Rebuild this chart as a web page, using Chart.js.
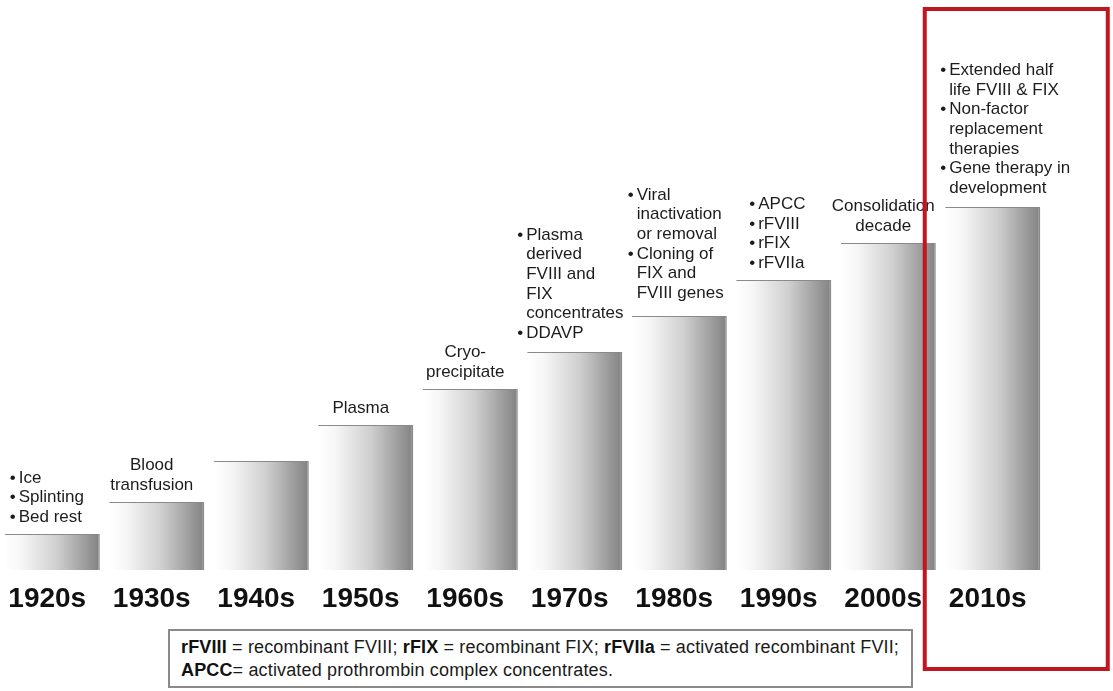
<!DOCTYPE html>
<html>
<head>
<meta charset="utf-8">
<title>Hemophilia treatment milestones by decade</title>
<script src="https://cdn.jsdelivr.net/npm/chart.js@4.4.1/dist/chart.umd.min.js"></script>
<style>
  html, body { margin: 0; padding: 0; background: #ffffff; }
  #wrap { position: relative; width: 1113px; height: 691px; overflow: hidden; }
  #chart { position: absolute; left: 0; top: 0; }
  #footnote {
    position: absolute; left: 168px; top: 629px; width: 745px; height: 59px;
    box-sizing: border-box; border: 2px solid #8a8a8a; background: #ffffff;
    padding: 5px 0 0 11px; font-family: 'Liberation Sans', Arial, sans-serif;
    font-size: 18px; letter-spacing: 0.15px; line-height: 23px; color: #1a1a1a; white-space: nowrap;
  }
  #footnote b { color: #111111; }
</style>
</head>
<body>
<div id="wrap">
  <canvas id="chart" width="1113" height="691"></canvas>
  <div id="footnote"><b>rFVIII</b> = recombinant FVIII; <b>rFIX</b> = recombinant FIX; <b>rFVIIa</b> = activated recombinant FVII;<br><b>APCC</b>= activated prothrombin complex concentrates.</div>
</div>
<script>
// Decades on the timeline
const decades = ['1920s', '1930s', '1940s', '1950s', '1960s', '1970s', '1980s', '1990s', '2000s', '2010s'];

// Height of each step of the staircase
const stepHeights = [36, 68, 109, 145, 181, 218, 254, 290, 327, 363];

// Treatment notes written above each step
const noteLines = [
  ['• Ice', '• Splinting', '• Bed rest'],
  ['Blood', 'transfusion'],
  [],
  ['Plasma'],
  ['Cryo-', 'precipitate'],
  ['• Plasma', 'derived', 'FVIII and', 'FIX', 'concentrates', '• DDAVP'],
  ['• Viral', 'inactivation', 'or removal', '• Cloning of', 'FIX and', 'FVIII genes'],
  ['• APCC', '• rFVIII', '• rFIX', '• rFVIIa'],
  ['Consolidation', 'decade'],
  ['• Extended half', 'life FVIII & FIX', '• Non-factor', 'replacement', 'therapies', '• Gene therapy in', 'development']
];

// Layout of the notes: horizontal shift of bulleted notes from the bar's left edge,
// and the gap between the last line's baseline and the bar top
const noteShiftX = [5, 0, 0, 0, 0, -10, -4, 13, 0, -5];
const noteLift = [12, 12, 0, 12, 12, 14, 18, 12, 12, 14];

const BAR_FRACTION = 0.91;
const TEXT_FONT = "17px 'Liberation Sans', Arial, sans-serif";
const LINE_STEP = 19.7;
const BULLET_INDENT = 9;

function barGeometry(chart, index) {
  const xs = chart.scales.x;
  const center = xs.getPixelForValue(index);
  const half = (xs.width / decades.length) * BAR_FRACTION / 2;
  return { center, left: center - half, right: center + half };
}

function barGradient(context) {
  const chart = context.chart;
  if (!chart.chartArea) return '#c8c8c8';
  const g = barGeometry(chart, context.dataIndex);
  const grad = chart.ctx.createLinearGradient(g.left, 0, g.right, 0);
  grad.addColorStop(0, '#ffffff');
  grad.addColorStop(0.18, '#f6f6f6');
  grad.addColorStop(0.55, '#cfcfcf');
  grad.addColorStop(1, '#828282');
  return grad;
}

// Writes the treatment notes above every step
const notesPlugin = {
  id: 'stepNotes',
  afterDatasetsDraw(chart) {
    const ctx = chart.ctx;
    const ys = chart.scales.y;
    ctx.save();
    ctx.font = TEXT_FONT;
    ctx.fillStyle = '#1c1c1c';
    ctx.textBaseline = 'alphabetic';
    noteLines.forEach((lines, i) => {
      if (!lines.length) return;
      const g = barGeometry(chart, i);
      const top = ys.getPixelForValue(stepHeights[i]);
      const lastBaseline = top - noteLift[i];
      const firstBaseline = lastBaseline - (lines.length - 1) * LINE_STEP;
      const bulleted = lines.some(l => l.startsWith('• '));
      lines.forEach((line, k) => {
        const y = firstBaseline + k * LINE_STEP;
        if (bulleted) {
          const x = g.left + noteShiftX[i];
          ctx.textAlign = 'left';
          if (line.startsWith('• ')) {
            ctx.fillText('•', x, y);
            ctx.fillText(line.slice(2), x + BULLET_INDENT, y);
          } else {
            ctx.fillText(line, x + BULLET_INDENT, y);
          }
        } else {
          ctx.textAlign = 'center';
          ctx.fillText(line, g.center - 5, y);
        }
      });
    });
    ctx.restore();
  }
};

// Red frame around the most recent decade
const highlightPlugin = {
  id: 'highlightFrame',
  afterDraw(chart) {
    const ctx = chart.ctx;
    const c = chart.scales.x.getPixelForValue(decades.length - 1);
    ctx.save();
    ctx.strokeStyle = '#c1151f';
    ctx.lineWidth = 4;
    ctx.strokeRect(c - 68, 9, 183, 660);
    ctx.restore();
  }
};

new Chart(document.getElementById('chart'), {
  type: 'bar',
  data: {
    labels: decades,
    datasets: [{
      data: stepHeights,
      backgroundColor: barGradient,
      borderColor: '#8a8a8a',
      borderWidth: { top: 1, right: 1.5, left: 0, bottom: 0 },
      borderSkipped: false,
      barPercentage: BAR_FRACTION,
      categoryPercentage: 1
    }]
  },
  options: {
    responsive: false,
    animation: false,
    layout: { padding: { left: 0, right: 68, top: 10, bottom: 63.4 } },
    plugins: { legend: { display: false }, tooltip: { enabled: false } },
    scales: {
      x: {
        grid: { display: false, drawTicks: false },
        border: { display: false },
        ticks: {
          color: '#111111',
          padding: 12,
          labelOffset: -5,
          font: { family: "'Liberation Sans', Arial, sans-serif", size: 28, weight: 'bold' }
        }
      },
      y: { display: false, min: 0, max: 560 }
    }
  },
  plugins: [notesPlugin, highlightPlugin]
});
</script>
</body>
</html>
